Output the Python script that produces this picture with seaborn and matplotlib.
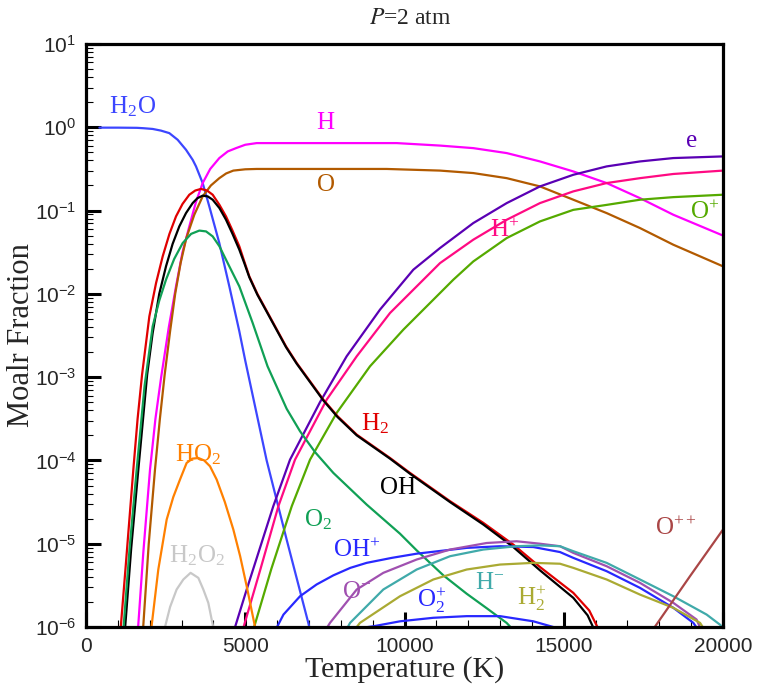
import numpy as np
import pandas as pd
import matplotlib
matplotlib.use("Agg")
import matplotlib.pyplot as plt
import matplotlib.ticker as mticker
import seaborn as sns

# ---------------- data (temperature in K, molar fraction) ----------------
T_H2O = [420, 1000, 1600, 1800, 2093, 2355, 2616, 2878, 3140, 3349, 3454, 3663, 3768, 3872, 4186, 4500, 4814,
         5000, 5672, 6300, 6980, 7100]
X_H2O = [0.99, 0.99, 0.985, 0.975, 0.955, 0.912, 0.851, 0.708, 0.537, 0.407, 0.339, 0.214, 0.155, 0.112, 0.0407,
         0.0123, 3.55e-3, 1.58e-3, 1.0e-4, 1.12e-5, 1.12e-6, 7.1e-7]

T_H = [1610, 1800, 2010, 2180, 2360, 2600, 2826, 3030, 3244, 3450, 3663, 3900, 4186, 4450, 4710, 5000, 5360, 8000,
       9755, 11115, 12160, 13210, 14254, 15300, 16346, 17393, 18440, 20000]
X_H = [7.1e-7, 7.9e-6, 7.76e-5, 3.16e-4, 1.0e-3, 3.98e-3, 0.0123, 0.0316, 0.0646, 0.126, 0.214, 0.316, 0.427, 0.513,
       0.562, 0.617, 0.646, 0.646, 0.646, 0.603, 0.562, 0.490, 0.389, 0.295, 0.214, 0.141, 0.0891, 0.0501]

T_O = [1770, 1970, 2166, 2320, 2470, 2640, 2800, 2970, 3150, 3400, 3663, 3920, 4186, 4400, 4626, 5000, 5360, 9440,
       11115, 12160, 13210, 14254, 15300, 16346, 17393, 18440, 20000]
X_O = [7.1e-7, 1.0e-5, 7.76e-5, 3.16e-4, 1.07e-3, 3.55e-3, 0.01, 0.0234, 0.0468, 0.0891, 0.148, 0.2, 0.245, 0.279,
       0.302, 0.313, 0.316, 0.316, 0.302, 0.282, 0.245, 0.195, 0.135, 0.0933, 0.0617, 0.0389, 0.0214]

T_e = [4560, 5045, 5880, 6405, 7347, 8184, 9230, 10277, 11115, 12160, 13210, 14254, 15300, 16346, 17393, 18440, 20000]
X_e = [7.1e-7, 2.82e-6, 2.82e-5, 1.02e-4, 5.01e-4, 1.78e-3, 6.46e-3, 0.0195, 0.0355, 0.0708, 0.123, 0.195, 0.269,
       0.339, 0.389, 0.427, 0.447]

T_Hp = [4870, 5474, 6040, 6562, 7557, 8500, 9545, 11115, 12160, 13210, 14254, 15300, 16346, 17393, 18440, 20000]
X_Hp = [7.9e-7, 4.9e-6, 2.82e-5, 1.02e-4, 5.37e-4, 1.78e-3, 5.89e-3, 0.0234, 0.0447, 0.0776, 0.123, 0.170, 0.214,
        0.245, 0.275, 0.302]

T_Op = [5200, 5820, 6460, 7033, 7870, 8917, 9965, 11534, 12160, 13210, 14254, 15300, 16346, 17393, 18440, 20000]
X_Op = [7.9e-7, 5.0e-6, 2.82e-5, 1.02e-4, 3.72e-4, 1.35e-3, 3.72e-3, 0.0148, 0.0245, 0.0468, 0.0741, 0.102, 0.117,
        0.135, 0.145, 0.155]

T_H2 = [1060, 1240, 1486, 1620, 1760, 1989, 2200, 2408, 2620, 2826, 3030, 3244, 3430, 3610, 3800, 3977, 4190, 4396,
        4600, 4814, 4970, 5128, 5380, 5652, 6280, 6615, 7452, 7900, 8500, 9545, 10173, 11430, 12474, 13415, 14254,
        15300, 15800, 16250]
X_H2 = [7.08e-7, 5.01e-6, 7.76e-5, 3.16e-4, 1.07e-3, 5.37e-3, 0.0135, 0.0282, 0.0525, 0.0851, 0.12, 0.155, 0.174,
        0.182, 0.174, 0.155, 0.117, 0.0851, 0.0575, 0.0372, 0.0245, 0.0162, 0.01, 6.46e-3, 2.34e-3, 1.48e-3,
        5.37e-4, 3.39e-4, 2.04e-4, 1.07e-4, 7.08e-5, 3.24e-5, 1.78e-5, 9.77e-6, 5.25e-6, 2.57e-6, 1.58e-6, 7.08e-7]

T_OH = [1200, 1420, 1643, 1920, 2093, 2300, 2512, 2720, 2930, 3140, 3349, 3500, 3663, 3820, 3977, 4190, 4396, 4600,
        4814, 4970, 5128, 5380, 5652, 6280, 6615, 7452, 7900, 8500, 9545, 10173, 11430, 12474, 13415, 14254, 15300,
        15750, 16100]
X_OH = [7.08e-7, 8.9e-6, 7.76e-5, 1.07e-3, 3.39e-3, 0.01, 0.0214, 0.0398, 0.0646, 0.0933, 0.123, 0.141, 0.151,
        0.148, 0.135, 0.107, 0.0776, 0.0525, 0.0339, 0.0234, 0.0158, 9.77e-3, 6.31e-3, 2.29e-3, 1.45e-3, 5.25e-4,
        3.31e-4, 2.0e-4, 1.05e-4, 6.92e-5, 3.16e-5, 1.70e-5, 9.12e-6, 4.79e-6, 2.24e-6, 1.38e-6, 7.08e-7]

T_O2 = [1150, 1370, 1591, 1840, 2093, 2300, 2512, 2770, 3035, 3300, 3558, 3770, 3977, 4190, 4396, 4814, 5233, 5700,
        6300, 6720, 7190, 7766, 8812, 9858, 10382, 11220, 11952, 12600, 13206, 13450]
X_O2 = [7.08e-7, 8.9e-6, 7.76e-5, 7.9e-4, 4.07e-3, 8.3e-3, 0.0148, 0.0263, 0.0407, 0.0525, 0.0575, 0.0562, 0.049,
        0.0372, 0.0257, 0.0123, 4.47e-3, 1.35e-3, 4.17e-4, 2.24e-4, 1.26e-4, 7.08e-5, 2.95e-5, 1.32e-5, 8.32e-6,
        4.17e-6, 2.51e-6, 1.66e-6, 1.12e-6, 8.9e-7]

T_HO2 = [2040, 2270, 2533, 2740, 2951, 3160, 3340, 3527, 3710, 3893, 4103, 4360, 4626, 4840, 5045, 5320]
X_HO2 = [8.9e-7, 4.9e-6, 1.95e-5, 3.63e-5, 5.89e-5, 9.33e-5, 1.05e-4, 1.07e-4, 1.0e-4, 8.51e-5, 5.89e-5, 3.16e-5,
         1.48e-5, 7.08e-6, 3.09e-6, 9.5e-7]

T_H2O2 = [2460, 2640, 2845, 3056, 3284, 3527, 3684, 3840, 4010]
X_H2O2 = [9.3e-7, 1.74e-6, 2.82e-6, 3.72e-6, 4.47e-6, 3.89e-6, 2.82e-6, 1.95e-6, 9.3e-7]

T_OHp = [5930, 6200, 6720, 7240, 7766, 8300, 8812, 9600, 10382, 11952, 13000, 14045, 14882, 15300, 16346, 17393,
         18440, 19070, 19200]
X_OHp = [8.9e-7, 1.41e-6, 2.34e-6, 3.24e-6, 4.17e-6, 5.13e-6, 5.89e-6, 6.76e-6, 7.59e-6, 8.91e-6, 9.33e-6,
         9.12e-6, 7.94e-6, 6.76e-6, 4.68e-6, 2.95e-6, 1.70e-6, 1.12e-6, 9.5e-7]

T_Om = [7500, 7660, 8500, 9335, 10382, 11430, 12580, 13520, 14254, 14882, 15300, 16346, 17393, 18440, 19170, 19300]
X_Om = [8.9e-7, 1.12e-6, 2.82e-6, 4.47e-6, 6.46e-6, 8.51e-6, 1.02e-5, 1.07e-5, 1.0e-5, 9.33e-6, 7.76e-6,
        5.37e-6, 3.39e-6, 1.95e-6, 1.23e-6, 9.5e-7]

T_Hm = [8150, 8290, 9335, 10382, 11430, 12474, 13520, 14254, 14882, 15300, 16346, 17393, 18440, 19486, 19900, 20000]
X_Hm = [8.9e-7, 1.12e-6, 2.82e-6, 4.9e-6, 7.08e-6, 8.51e-6, 9.33e-6, 9.55e-6, 9.33e-6, 8.13e-6, 5.89e-6,
        3.72e-6, 2.34e-6, 1.41e-6, 1.07e-6, 9.8e-7]

T_H2p = [8400, 8600, 9858, 10905, 11952, 13000, 14045, 14882, 15300, 16346, 17393, 18440, 19280, 19400]
X_H2p = [8.9e-7, 1.12e-6, 2.34e-6, 3.72e-6, 4.9e-6, 5.62e-6, 5.89e-6, 5.75e-6, 5.13e-6, 3.72e-6, 2.45e-6,
         1.70e-6, 1.12e-6, 9.5e-7]

T_O2p = [8250, 9020, 9858, 10905, 11952, 13000, 14045, 14670, 14800]
X_O2p = [9.3e-7, 1.02e-6, 1.17e-6, 1.29e-6, 1.35e-6, 1.35e-6, 1.17e-6, 1.0e-6, 9.3e-7]

T_Opp = [17800, 18963, 20000]
X_Opp = [9.3e-7, 4.07e-6, 1.48e-5]

species = ["H2O", "H", "O", "e", "H+", "O+", "H2", "OH", "O2", "HO2", "H2O2",
           "OH+", "O-", "H-", "H2+", "O2+", "O++"]
temps = [T_H2O, T_H, T_O, T_e, T_Hp, T_Op, T_H2, T_OH, T_O2, T_HO2, T_H2O2,
         T_OHp, T_Om, T_Hm, T_H2p, T_O2p, T_Opp]
fracs = [X_H2O, X_H, X_O, X_e, X_Hp, X_Op, X_H2, X_OH, X_O2, X_HO2, X_H2O2,
         X_OHp, X_Om, X_Hm, X_H2p, X_O2p, X_Opp]

y_major = [1e-6, 1e-5, 1e-4, 1e-3, 1e-2, 1e-1, 1e0, 1e1]
x_major = [0, 5000, 10000, 15000, 20000]

colors = {
    "H2O": "#3c46ff", "H": "#ff00ff", "O": "#b25a00", "e": "#5a00b4",
    "H+": "#ff0a82", "O+": "#55aa00", "H2": "#e00000", "OH": "#000000",
    "O2": "#10a055", "HO2": "#ff8000", "H2O2": "#c8c8c8", "OH+": "#2828ff",
    "O-": "#a050b0", "H-": "#40aaaa", "H2+": "#aaaa33", "O2+": "#2828ff",
    "O++": "#aa4646",
}

label_text = {
    "H2O": r"H$_{\mathdefault{2}}$O", "H": "H", "O": "O", "e": "e",
    "H+": r"H$^{\mathdefault{+}}$", "O+": r"O$^{\mathdefault{+}}$",
    "H2": r"H$_{\mathdefault{2}}$", "OH": "OH", "O2": r"O$_{\mathdefault{2}}$",
    "HO2": r"HO$_{\mathdefault{2}}$", "H2O2": r"H$_{\mathdefault{2}}$O$_{\mathdefault{2}}$",
    "OH+": r"OH$^{\mathdefault{+}}$", "O-": r"O$^{\mathdefault{-}}$",
    "H-": r"H$^{\mathdefault{-}}$", "H2+": r"H$_{\mathdefault{2}}^{\mathdefault{+}}$",
    "O2+": r"O$_{\mathdefault{2}}^{\mathdefault{+}}$", "O++": r"O$^{\mathdefault{++}}$",
}
# label anchor positions in axes fractions
label_pos = {
    "H2O": (0.073, 0.892), "H": (0.375, 0.865), "O": (0.377, 0.758), "e": (0.950, 0.834),
    "O+": (0.972, 0.712), "H+": (0.658, 0.681), "H2": (0.454, 0.348), "OH": (0.490, 0.238),
    "HO2": (0.176, 0.295), "O2": (0.364, 0.183), "H2O2": (0.174, 0.122), "OH+": (0.425, 0.132),
    "O-": (0.425, 0.060), "O2+": (0.543, 0.046), "H-": (0.634, 0.075), "H2+": (0.699, 0.050),
    "O++": (0.926, 0.170),
}

rows = []
for sp, tt, xx in zip(species, temps, fracs):
    for t, x in zip(tt, xx):
        rows.append((sp, t, x))
df = pd.DataFrame(rows, columns=["species", "T", "X"])

# ---------------- style ----------------
sns.set_style("white")
plt.rcParams["font.family"] = ["Liberation Serif", "DejaVu Serif"]
plt.rcParams["mathtext.fontset"] = "stix"

fig = plt.figure(figsize=(7.59, 6.97), dpi=100)
ax = fig.add_axes([86 / 759, 1 - 627 / 697, 637 / 759, 583 / 697])

sns.lineplot(data=df, x="T", y="X", hue="species", hue_order=species, palette=colors,
             sort=False, estimator=None, legend=False, linewidth=1.6, ax=ax)

ax.set_yscale("log")
ax.set_xlim(0, 20000)
ax.set_ylim(1e-6, 10)

ax.xaxis.set_major_locator(mticker.FixedLocator(x_major))
ax.xaxis.set_minor_locator(mticker.MultipleLocator(1000))
ax.xaxis.set_major_formatter(mticker.StrMethodFormatter("{x:.0f}"))
ax.yaxis.set_major_locator(mticker.FixedLocator(y_major))
ax.yaxis.set_major_formatter(mticker.LogFormatterSciNotation())
ax.yaxis.set_minor_locator(mticker.LogLocator(base=10, subs=np.arange(2, 10), numticks=20))
ax.yaxis.set_minor_formatter(mticker.NullFormatter())

ax.tick_params(which="both", bottom=True, left=True, top=False, right=False, direction="in")
ax.tick_params(which="major", length=11, width=2.2, labelsize=15,
               labelfontfamily="Liberation Sans", pad=7, color="black")
ax.tick_params(which="minor", length=5, width=0.8, color="black")

for s in ax.spines.values():
    s.set_linewidth(2.3)
    s.set_color("black")

ax.set_xlabel("Temperature (K)", fontsize=21.5)
ax.set_ylabel("Moalr Fraction", fontsize=22)
ax.xaxis.set_label_coords(0.5, -0.049)
ax.yaxis.set_label_coords(-0.078, 0.5)

fig.text(410 / 759, 1 - 18 / 697, r"$P$=2 atm", ha="center", va="center", fontsize=17)

for sp in species:
    fx, fy = label_pos[sp]
    ax.text(fx, fy, label_text[sp], transform=ax.transAxes, ha="center", va="center",
            fontsize=18, color=colors[sp])

fig.savefig("out.png", dpi=100)
